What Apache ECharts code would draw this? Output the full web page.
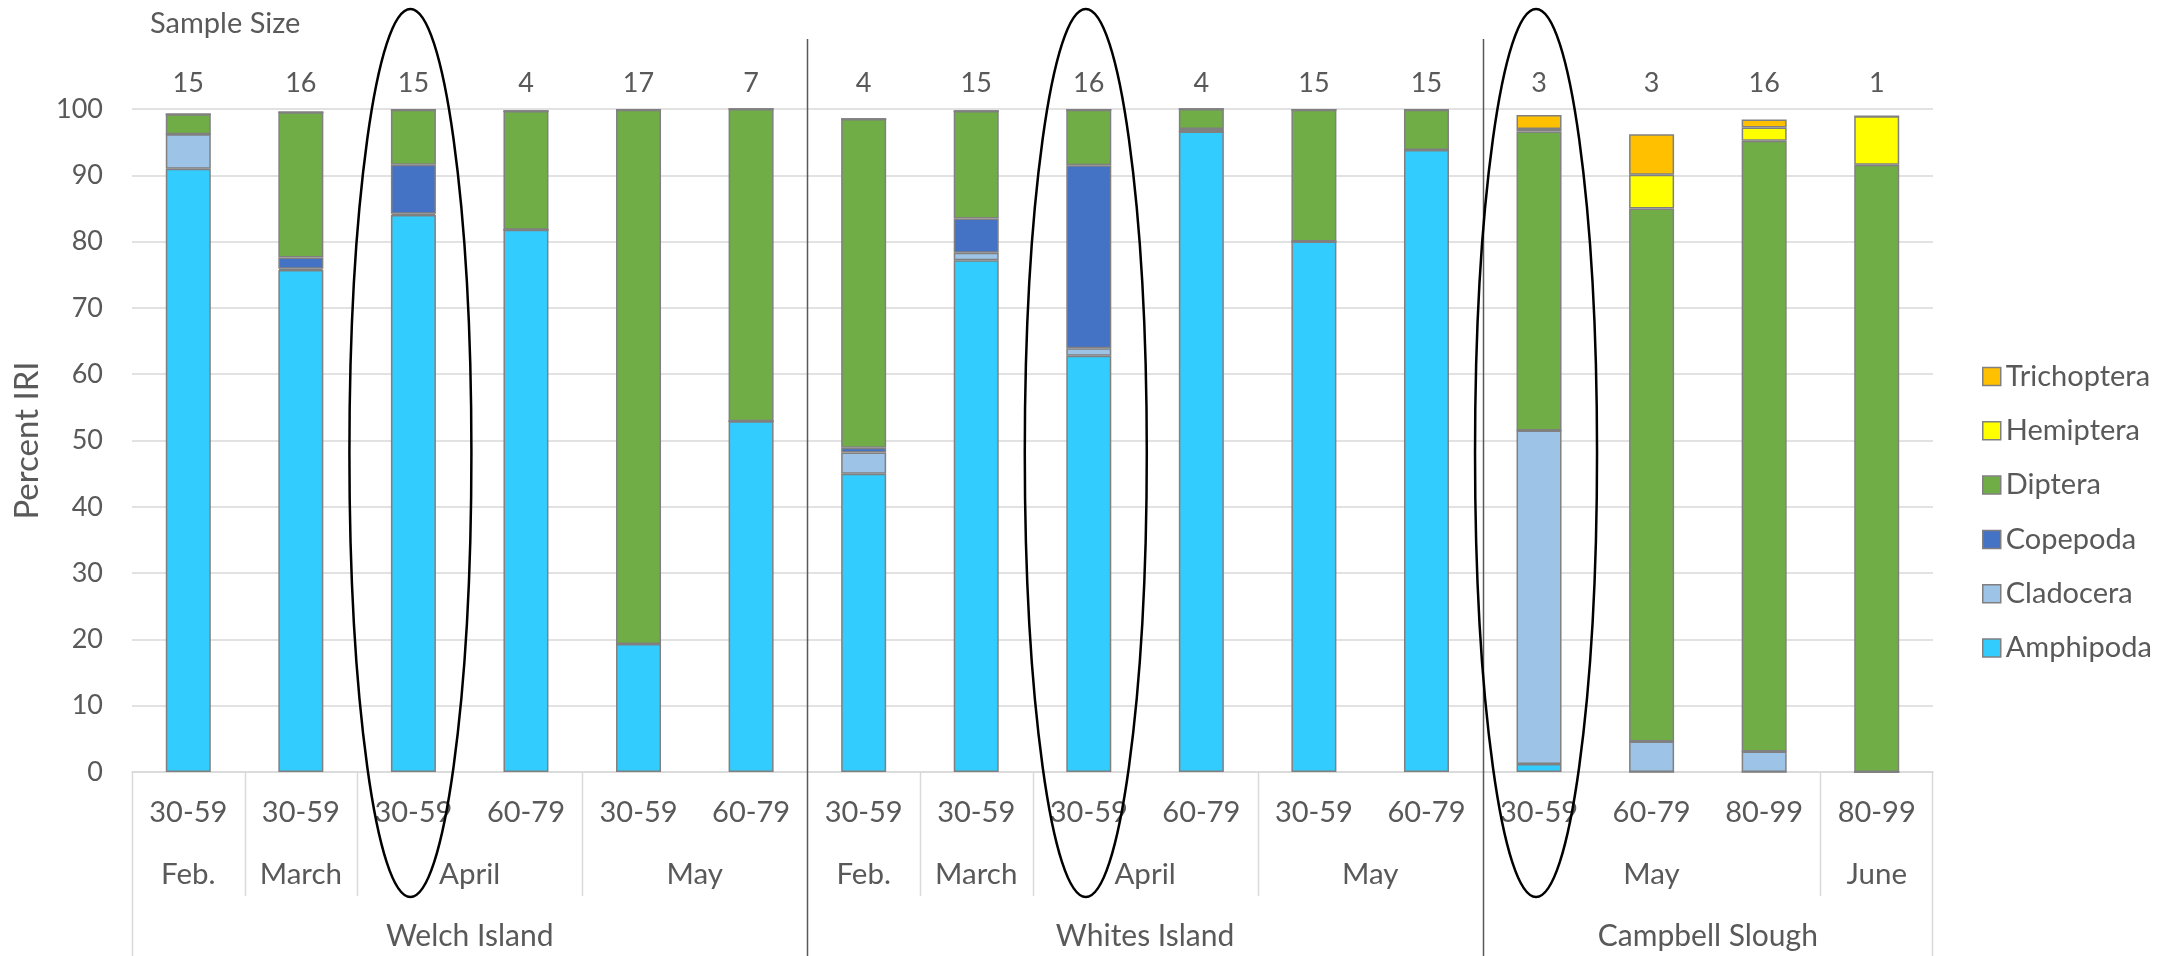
<!DOCTYPE html>
<html>
<head>
<meta charset="utf-8">
<script src="https://cdn.jsdelivr.net/npm/echarts@6/dist/echarts.min.js"></script>
<style>
  html, body { margin: 0; padding: 0; background: #ffffff; }
  #chart { width: 2178px; height: 956px; }
</style>
</head>
<body>
<div id="chart"></div>
<script>
// Age classes (mm) of the fish sampled, one per stacked bar
const ageClasses = ['30-59', '30-59', '30-59', '60-79', '30-59', '60-79',
                    '30-59', '30-59', '30-59', '60-79', '30-59', '60-79',
                    '30-59', '60-79', '80-99', '80-99'];
// Number of stomachs examined per bar
const sampleSizes = ['15', '16', '15', '4', '17', '7',
                     '4', '15', '16', '4', '15', '15',
                     '3', '3', '16', '1'];
// Month groups (label and number of bars covered)
const monthLabels = ['Feb.', 'March', 'April', 'May', 'Feb.', 'March', 'April', 'May', 'May', 'June'];
const monthSpans  = [1, 1, 2, 2, 1, 1, 2, 2, 3, 1];
// Site groups (label and number of bars covered)
const siteLabels = ['Welch Island', 'Whites Island', 'Campbell Slough'];
const siteSpans  = [6, 6, 4];
// Bars singled out with an outline
const circledBars = [2, 8, 12];

// Percent IRI per prey group
const amphipoda   = [91.0, 75.7, 84.0, 81.8, 19.3, 52.9, 45.0, 77.2, 62.8, 96.6, 80.0, 93.8, 1.2, 0, 0, 0];
const cladocera   = [5.2, 0.2, 0.2, 0, 0, 0, 3.2, 1.1, 1.1, 0, 0, 0, 50.3, 4.6, 3.1, 0];
const copepoda    = [0, 1.7, 7.4, 0, 0, 0, 0.7, 5.2, 27.6, 0.4, 0, 0, 0, 0, 0, 0];
const diptera     = [3.0, 21.9, 8.3, 17.9, 80.6, 47.1, 49.6, 16.2, 8.4, 3.0, 19.9, 6.1, 45.1, 80.4, 92.1, 91.6];
const hemiptera   = [0, 0, 0, 0, 0, 0, 0, 0, 0, 0, 0, 0, 0.4, 5.1, 2.0, 7.3];
const trichoptera = [0, 0, 0, 0, 0, 0, 0, 0, 0, 0, 0, 0, 2.1, 6.1, 1.2, 0];

const TEXT = '#595959';
const FONT = 'Lato, "Open Sans", sans-serif';
const GRID_LINE = '#D9D9D9';
const BORDER = '#808080';

const preyGroups = [
  { name: 'Amphipoda',   data: amphipoda,   color: '#33CCFF' },
  { name: 'Cladocera',   data: cladocera,   color: '#9DC3E6' },
  { name: 'Copepoda',    data: copepoda,    color: '#4472C4' },
  { name: 'Diptera',     data: diptera,     color: '#70AD47' },
  { name: 'Hemiptera',   data: hemiptera,   color: '#FFFF00' },
  { name: 'Trichoptera', data: trichoptera, color: '#FFC000' }
];

const chart = echarts.init(document.getElementById('chart'), null, { renderer: 'canvas' });

chart.setOption({
  animation: false,
  backgroundColor: '#ffffff',
  textStyle: { fontFamily: FONT },
  grid: { left: 132, right: 245, top: 109, bottom: 184, containLabel: false },
  legend: {
    orient: 'vertical',
    left: 1977,
    top: 357,
    icon: 'rect',
    itemWidth: 18,
    itemHeight: 18,
    itemGap: 25.3,
    selectedMode: false,
    data: ['Trichoptera', 'Hemiptera', 'Diptera', 'Copepoda', 'Cladocera', 'Amphipoda'],
    itemStyle: { borderColor: BORDER, borderWidth: 1.5 },
    textStyle: { fontSize: 29, color: TEXT, fontFamily: FONT }
  },
  xAxis: [
    {
      type: 'category',
      data: ageClasses,
      position: 'bottom',
      axisLine: { show: true, lineStyle: { color: GRID_LINE, width: 1.5 } },
      axisTick: { show: false },
      axisLabel: { interval: 0, fontSize: 29, color: TEXT, margin: 26, fontFamily: FONT },
      splitLine: { show: false }
    },
    {
      type: 'category',
      data: sampleSizes,
      position: 'top',
      axisLine: { show: false },
      axisTick: { show: false },
      axisLabel: { interval: 0, fontSize: 27, color: TEXT, margin: 12, fontFamily: FONT },
      splitLine: { show: false }
    }
  ],
  yAxis: {
    type: 'value',
    min: 0,
    max: 100,
    interval: 10,
    name: 'Percent IRI',
    nameLocation: 'middle',
    nameRotate: 90,
    nameGap: 88,
    nameTextStyle: { fontSize: 33, color: TEXT, fontFamily: FONT },
    axisLine: { show: false },
    axisTick: { show: false },
    axisLabel: { fontSize: 27, color: TEXT, margin: 29, fontFamily: FONT },
    splitLine: { lineStyle: { color: GRID_LINE, width: 1.5 } }
  },
  series: preyGroups.map(g => ({
    name: g.name,
    type: 'bar',
    stack: 'iri',
    xAxisIndex: 0,
    barWidth: 45,
    data: g.data,
    itemStyle: { color: g.color, borderColor: BORDER, borderWidth: 1.5 },
    emphasis: { disabled: true }
  }))
});

// Group labels, separators and outlines placed from the category axis scale
const cx = i => chart.convertToPixel({ xAxisIndex: 0 }, i);
const band = cx(1) - cx(0);
const leftOf = i => cx(i) - band / 2;
const rightOf = i => cx(i) + band / 2;
const yZero = chart.convertToPixel({ yAxisIndex: 0 }, 0);
const H = 956;
const MONTH_Y = 874, SITE_Y = 936, MONTH_LINE_END = 896;

const elements = [];
const text = (str, x, y, size, align) => ({
  type: 'text', x: x, y: y, z: 10,
  style: { text: str, fill: TEXT, fontSize: size, fontFamily: FONT,
           align: align || 'center', verticalAlign: 'middle' }
});
const line = (x, y1, y2, color, w) => ({
  type: 'line', z: 5,
  shape: { x1: x, y1: y1, x2: x, y2: y2 },
  style: { stroke: color, lineWidth: w }
});

elements.push(text('Sample Size', 150, 24, 29, 'left'));

// site starts
const siteStarts = [];
let s = 0;
siteSpans.forEach((n, k) => {
  siteStarts.push(s);
  elements.push(text(siteLabels[k], (leftOf(s) + rightOf(s + n - 1)) / 2, SITE_Y, 30));
  s += n;
});

// months
let m = 0;
monthSpans.forEach((n, k) => {
  elements.push(text(monthLabels[k], (leftOf(m) + rightOf(m + n - 1)) / 2, MONTH_Y, 29.5));
  if (siteStarts.indexOf(m) === -1) {
    elements.push(line(Math.round(leftOf(m)) + 0.5, yZero, MONTH_LINE_END, GRID_LINE, 1.5));
  }
  m += n;
});

// outer edges of the axis area
elements.push(line(Math.round(leftOf(0)) + 0.5, yZero, H, GRID_LINE, 1.5));
elements.push(line(Math.round(rightOf(ageClasses.length - 1)) - 0.5, yZero, H, GRID_LINE, 1.5));

// site dividers
siteStarts.slice(1).forEach(i => {
  elements.push(line(Math.round(leftOf(i)) + 0.5, 39, H, '#595959', 1.5));
});

// outlines around highlighted bars
circledBars.forEach(i => {
  elements.push({
    type: 'ellipse', z: 20,
    shape: { cx: cx(i) - 3, cy: 453, rx: 61, ry: 444 },
    style: { fill: 'none', stroke: '#000000', lineWidth: 2.5 }
  });
});

chart.setOption({ graphic: { elements: elements } });
</script>
</body>
</html>
